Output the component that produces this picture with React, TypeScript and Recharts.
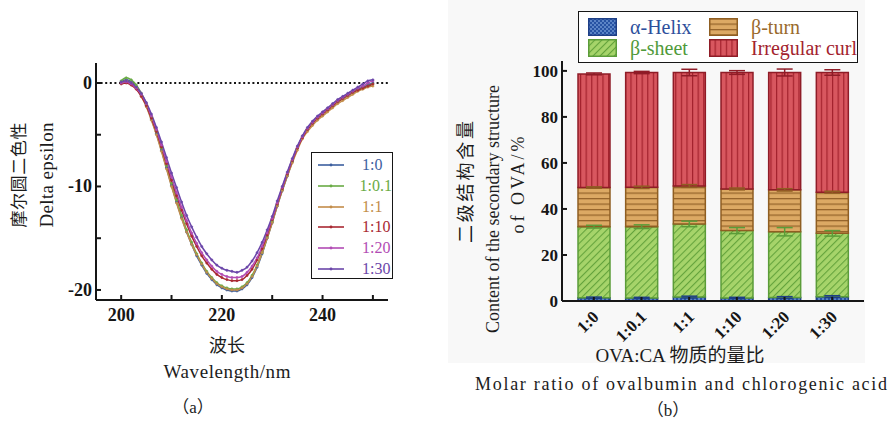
import { LineChart, Line, XAxis, YAxis, ReferenceLine, Legend, BarChart, Bar, ErrorBar } from 'recharts';

const SERIF = "'Liberation Serif', 'Times New Roman', Times, 'DejaVu Serif', 'Noto Sans CJK SC', serif";
const CJK = "'Noto Sans CJK SC', sans-serif";
const INK = '#161616';

// ---- (a) CD spectra ----
const wavelengths = [
  200, 201, 202, 203, 204, 205, 206, 207, 208, 209, 210, 211, 212, 213, 214, 215, 216,
  217, 218, 219, 220, 221, 222, 223, 224, 225, 226, 227, 228, 229, 230, 231, 232, 233,
  234, 235, 236, 237, 238, 239, 240, 241, 242, 243, 244, 245, 246, 247, 248, 249, 250,
];
const r1to0 = [
  0.1, 0.3, 0.1, -0.4, -1.2, -2.2, -3.5, -4.9, -6.5, -8.2, -9.9, -11.5, -13.0, -14.4, -15.6, -16.7, -17.6,
  -18.4, -19.0, -19.5, -19.8, -20.0, -20.1, -20.1, -19.9, -19.5, -18.8, -17.8, -16.5, -15.0, -13.5, -11.9, -10.4, -9.0,
  -7.6, -6.3, -5.2, -4.5, -3.9, -3.4, -3.0, -2.6, -2.2, -1.8, -1.5, -1.2, -0.9, -0.6, -0.4, -0.2, 0.0,
];
const r1to01 = [
  0.2, 0.5, 0.3, -0.2, -1.0, -2.0, -3.3, -4.7, -6.3, -8.0, -9.7, -11.3, -12.8, -14.2, -15.4, -16.5, -17.4,
  -18.2, -18.8, -19.3, -19.6, -19.8, -19.9, -19.9, -19.7, -19.3, -18.6, -17.6, -16.4, -14.9, -13.4, -11.8, -10.3, -8.9,
  -7.5, -6.3, -5.2, -4.5, -3.9, -3.4, -3.0, -2.6, -2.2, -1.8, -1.5, -1.2, -0.9, -0.7, -0.5, -0.3, -0.1,
];
const r1to1 = [
  0.0, 0.2, 0.0, -0.5, -1.3, -2.3, -3.6, -5.0, -6.6, -8.3, -10.0, -11.6, -13.1, -14.4, -15.6, -16.6, -17.5,
  -18.3, -18.9, -19.4, -19.7, -19.9, -20.0, -20.0, -19.8, -19.4, -18.7, -17.7, -16.4, -15.0, -13.5, -11.9, -10.4, -9.0,
  -7.7, -6.5, -5.4, -4.7, -4.1, -3.6, -3.2, -2.8, -2.4, -2.0, -1.7, -1.4, -1.1, -0.8, -0.6, -0.4, -0.3,
];
const r1to10 = [
  -0.1, 0.0, -0.2, -0.6, -1.3, -2.2, -3.4, -4.7, -6.2, -7.8, -9.4, -10.9, -12.3, -13.6, -14.8, -15.8, -16.7,
  -17.4, -18.0, -18.5, -18.8, -19.0, -19.1, -19.1, -19.0, -18.6, -18.0, -17.1, -16.0, -14.7, -13.2, -11.7, -10.2, -8.8,
  -7.5, -6.3, -5.3, -4.5, -3.9, -3.4, -3.0, -2.6, -2.2, -1.8, -1.5, -1.2, -0.9, -0.7, -0.5, -0.3, -0.1,
];
const r1to20 = [
  0.0, 0.1, -0.1, -0.5, -1.1, -2.0, -3.2, -4.5, -6.0, -7.6, -9.1, -10.6, -12.0, -13.3, -14.5, -15.5, -16.4,
  -17.1, -17.7, -18.2, -18.5, -18.7, -18.8, -18.8, -18.7, -18.3, -17.7, -16.9, -15.8, -14.5, -13.1, -11.6, -10.1, -8.7,
  -7.4, -6.2, -5.2, -4.4, -3.8, -3.3, -2.9, -2.5, -2.1, -1.7, -1.4, -1.1, -0.8, -0.5, -0.3, 0.0, 0.2,
];
const r1to30 = [
  0.1, 0.2, 0.0, -0.4, -1.0, -1.9, -3.0, -4.3, -5.7, -7.2, -8.7, -10.1, -11.5, -12.8, -13.9, -14.9, -15.8,
  -16.5, -17.1, -17.6, -17.9, -18.1, -18.2, -18.3, -18.1, -17.8, -17.2, -16.4, -15.4, -14.2, -12.9, -11.4, -10.0, -8.6,
  -7.3, -6.1, -5.1, -4.3, -3.7, -3.2, -2.8, -2.4, -2.0, -1.6, -1.3, -1.0, -0.7, -0.4, -0.1, 0.2, 0.3,
];

const cdSeries = [
  { key: 'a', name: '1:0', color: '#3d5f9f', values: r1to0 },
  { key: 'b', name: '1:0.1', color: '#6aab45', values: r1to01 },
  { key: 'c', name: '1:1', color: '#c38d4a', values: r1to1 },
  { key: 'd', name: '1:10', color: '#a92932', values: r1to10 },
  { key: 'e', name: '1:20', color: '#b24cb4', values: r1to20 },
  { key: 'f', name: '1:30', color: '#6b46a9', values: r1to30 },
];

const cdData = wavelengths.map((w, i) => {
  const row: any = { w };
  cdSeries.forEach((s) => (row[s.key] = s.values[i]));
  return row;
});

// ---- (b) secondary structure ----
const ratios = ['1:0', '1:0.1', '1:1', '1:10', '1:20', '1:30'];
const helix = [1.4, 1.3, 1.7, 1.3, 1.5, 1.9];
const sheet = [30.9, 31.0, 31.8, 29.3, 28.6, 27.5];
const turn = [17.0, 17.1, 16.5, 18.1, 18.2, 17.9];
const curl = [49.4, 49.9, 49.3, 50.6, 51.0, 52.0];
const helixErr = [0.3, 0.3, 0.4, 0.3, 0.4, 0.4];
const sheetErr = [0.6, 0.8, 1.2, 1.3, 1.8, 1.2];
const turnErr = [0.3, 0.5, 0.6, 0.4, 0.5, 0.4];
const curlErr = [0.4, 0.5, 1.4, 0.8, 1.5, 1.2];

const structData = ratios.map((r, i) => ({
  r,
  helix: helix[i],
  sheet: sheet[i],
  turn: turn[i],
  curl: curl[i],
  helixErr: helixErr[i],
  sheetErr: sheetErr[i],
  turnErr: turnErr[i],
  curlErr: curlErr[i],
}));

const structSeries = [
  { key: 'helix', name: 'α-Helix', fill: 'url(#pHelix)', stroke: '#1e3f86', text: '#2d4f9c' },
  { key: 'sheet', name: 'β-sheet', fill: 'url(#pSheet)', stroke: '#5b9c39', text: '#4f9a3a' },
  { key: 'turn', name: 'β-turn', fill: 'url(#pTurn)', stroke: '#8f5e22', text: '#9a6a2c' },
  { key: 'curl', name: 'Irregular curl', fill: 'url(#pCurl)', stroke: '#8f1c27', text: '#a3232e' },
];

// ticks drawn inward, labels only on the major ones
const CdXTick = ({ x, y, payload }: any) => (
  <g>
    <line x1={x} x2={x} y1={y} y2={y - 5} stroke={INK} strokeWidth={2} />
    {payload.value % 20 === 0 && (
      <text x={x} y={y + 21} textAnchor="middle" fontFamily={SERIF} fontWeight="bold" fontSize={18} fill={INK}>
        {payload.value}
      </text>
    )}
  </g>
);

const CdYTick = ({ x, y, payload }: any) => (
  <g>
    <line x1={x} x2={x + 5} y1={y} y2={y} stroke={INK} strokeWidth={2} />
    {payload.value % 10 === 0 && (
      <text x={x - 4} y={y + 6} textAnchor="end" fontFamily={SERIF} fontWeight="bold" fontSize={18} fill={INK}>
        {payload.value}
      </text>
    )}
  </g>
);

const BarXTick = ({ x, y, payload }: any) => (
  <g>
    <line x1={x} x2={x} y1={y} y2={y - 4} stroke={INK} strokeWidth={2} />
    <text
      transform={`translate(${x + 6},${y + 17}) rotate(-45)`}
      textAnchor="end"
      fontFamily={SERIF}
      fontWeight="bold"
      fontSize={17}
      fill={INK}
    >
      {payload.value}
    </text>
  </g>
);

const BarYTick = ({ x, y, payload }: any) => (
  <g>
    <line x1={x} x2={x + 5} y1={y} y2={y} stroke={INK} strokeWidth={2} />
    <text x={x - 4} y={y + 6} textAnchor="end" fontFamily={SERIF} fontWeight="bold" fontSize={17} fill={INK}>
      {payload.value}
    </text>
  </g>
);

const CdLegend = () => (
  <div
    style={{
      width: 82,
      height: 127,
      border: `1.5px solid ${INK}`,
      boxSizing: 'border-box',
      background: '#fff',
      paddingTop: 2,
    }}
  >
    {cdSeries.map((s) => (
      <div key={s.key} style={{ display: 'flex', alignItems: 'center', height: 20.7 }}>
        <svg width={44} height={10} style={{ marginLeft: 6 }}>
          <line x1={0} x2={26} y1={5} y2={5} stroke={s.color} strokeWidth={1.6} />
          <circle cx={13} cy={5} r={1.4} fill={s.color} />
        </svg>
        <span style={{ fontFamily: SERIF, fontSize: 16, color: s.color, lineHeight: 1 }}>{s.name}</span>
      </div>
    ))}
  </div>
);

const StructLegend = () => (
  <div
    style={{
      position: 'relative',
      width: 280,
      height: 52,
      border: `1.5px solid ${INK}`,
      boxSizing: 'border-box',
      background: '#fff',
    }}
  >
    {structSeries.map((s, i) => {
      const left = i < 2 ? 9 : 130;
      const top = i % 2 === 0 ? 6 : 27;
      return (
        <div key={s.key} style={{ position: 'absolute', left, top, display: 'flex', alignItems: 'center', height: 18 }}>
          <svg width={29} height={18}>
            <rect x={0.75} y={0.75} width={27.5} height={16.5} fill={s.fill} stroke={s.stroke} strokeWidth={1.5} />
          </svg>
          <span style={{ marginLeft: 13, fontFamily: SERIF, fontSize: 20, color: s.text, lineHeight: 1, whiteSpace: 'nowrap' }}>
            {s.name}
          </span>
        </div>
      );
    })}
  </div>
);

function Patterns() {
  return (
    <svg width={0} height={0} style={{ position: 'absolute' }}>
      <defs>
        <pattern id="pHelix" width={4} height={4} patternUnits="userSpaceOnUse">
          <rect width={4} height={4} fill="#2753a3" />
          <rect width={2} height={2} fill="#5b84c6" />
          <rect x={2} y={2} width={2} height={2} fill="#5b84c6" />
        </pattern>
        <pattern id="pSheet" width={5} height={5} patternUnits="userSpaceOnUse" patternTransform="rotate(45)">
          <rect width={5} height={5} fill="#a6d46a" />
          <line x1={0} y1={0} x2={0} y2={5} stroke="#64a33c" strokeWidth={2.2} />
        </pattern>
        <pattern id="pTurn" width={6} height={5.5} patternUnits="userSpaceOnUse">
          <rect width={6} height={5.5} fill="#dca964" />
          <line x1={0} y1={0.6} x2={6} y2={0.6} stroke="#94632a" strokeWidth={1.3} />
        </pattern>
        <pattern id="pCurl" width={5.6} height={6} patternUnits="userSpaceOnUse">
          <rect width={5.6} height={6} fill="#d8575f" />
          <line x1={0.6} y1={0} x2={0.6} y2={6} stroke="#a3222d" strokeWidth={1.2} />
        </pattern>
      </defs>
    </svg>
  );
}

function Titles() {
  return (
    <svg width={890} height={421} style={{ position: 'absolute', left: 0, top: 0, pointerEvents: 'none' }}>
      <g fill="#1c1c1c">
        <text transform="translate(25,175) rotate(-90)" textAnchor="middle" fontFamily={CJK} fontSize={17} textLength={105}>
          摩尔圆二色性
        </text>
        <text transform="translate(53,175) rotate(-90)" textAnchor="middle" fontFamily={SERIF} fontSize={19} textLength={105}>
          Delta epsilon
        </text>
        <text x={227} y={352} textAnchor="middle" fontFamily={CJK} fontSize={18}>
          波长
        </text>
        <text x={227} y={378} textAnchor="middle" fontFamily={SERIF} fontSize={19} textLength={127}>
          Wavelength/nm
        </text>
        <text x={193} y={413} textAnchor="middle" fontFamily={SERIF} fontSize={17}>
          （a）
        </text>

        <text transform="translate(472,182) rotate(-90)" textAnchor="middle" fontFamily={CJK} fontSize={18} textLength={122}>
          二级结构含量
        </text>
        <text transform="translate(499,209) rotate(-90)" textAnchor="middle" fontFamily={SERIF} fontSize={18} textLength={248}>
          Content of the secondary structure
        </text>
        <text transform="translate(524,185) rotate(-90)" textAnchor="middle" fontFamily={SERIF} fontSize={18} textLength={97}>
          of OVA/%
        </text>
        <text x={680} y={362} textAnchor="middle" fontFamily={SERIF} fontSize={19}>
          OVA:CA 物质的量比
        </text>
        <text x={681} y={390} textAnchor="middle" fontFamily={SERIF} fontSize={18} textLength={412}>
          Molar ratio of ovalbumin and chlorogenic acid
        </text>
        <text x={668} y={416} textAnchor="middle" fontFamily={SERIF} fontSize={17}>
          （b）
        </text>
      </g>
    </svg>
  );
}

export default function App() {
  return (
    <div style={{ position: 'absolute', left: 0, top: 0, width: 890, height: 421, background: '#fff', overflow: 'hidden' }}>
      <Patterns />
      <div style={{ position: 'absolute', left: 448, top: 0, width: 417, height: 363, background: '#f8f8f8' }} />

      <div style={{ position: 'absolute', left: 0, top: 0 }}>
        <LineChart width={400} height={330} data={cdData} margin={{ top: 63, right: 12, bottom: 0, left: 0 }}>
          <XAxis
            dataKey="w"
            type="number"
            domain={[195, 253]}
            allowDataOverflow
            ticks={[200, 210, 220, 230, 240, 250]}
            tick={<CdXTick />}
            tickSize={0}
            tickMargin={0}
            height={30}
            axisLine={{ stroke: INK, strokeWidth: 2 }}
          />
          <YAxis
            type="number"
            domain={[-20.97, 1.93]}
            allowDataOverflow
            ticks={[-20, -15, -10, -5, 0]}
            tick={<CdYTick />}
            tickSize={0}
            tickMargin={0}
            width={96}
            axisLine={{ stroke: INK, strokeWidth: 2 }}
          />
          <ReferenceLine y={0} stroke={INK} strokeWidth={2} strokeDasharray="2 2.6" />
          {cdSeries.map((s) => (
            <Line
              key={s.key}
              dataKey={s.key}
              name={s.name}
              type="monotone"
              stroke={s.color}
              strokeWidth={1.5}
              dot={{ r: 1.1, fill: s.color, stroke: s.color, strokeWidth: 0.6 }}
              isAnimationActive={false}
            />
          ))}
          <Legend
            layout="horizontal"
            verticalAlign="middle"
            align="center"
            wrapperStyle={{ left: 311, top: 152, width: 82 }}
            content={<CdLegend />}
          />
        </LineChart>
      </div>

      <div style={{ position: 'absolute', left: 440, top: 0 }}>
        <BarChart width={440} height={348} data={structData} margin={{ top: 61, right: 16, bottom: 18, left: 0 }}>
          <XAxis
            dataKey="r"
            padding={{ left: 8, right: 8 }}
            tick={<BarXTick />}
            tickSize={0}
            tickMargin={0}
            height={29}
            interval={0}
            axisLine={{ stroke: INK, strokeWidth: 2 }}
          />
          <YAxis
            type="number"
            domain={[0, 104.3]}
            allowDataOverflow
            ticks={[0, 20, 40, 60, 80, 100]}
            tick={<BarYTick />}
            tickSize={0}
            tickMargin={0}
            width={122}
            axisLine={{ stroke: INK, strokeWidth: 2 }}
          />
          {structSeries.map((s) => (
            <Bar
              key={s.key}
              dataKey={s.key}
              name={s.name}
              stackId="s"
              barSize={32}
              fill={s.fill}
              stroke={s.stroke}
              strokeWidth={1.5}
              isAnimationActive={false}
            >
              <ErrorBar dataKey={`${s.key}Err`} direction="y" width={8} stroke={s.stroke} strokeWidth={1.5} />
            </Bar>
          ))}
          <Legend
            layout="horizontal"
            verticalAlign="middle"
            align="center"
            wrapperStyle={{ left: 138, top: 11, width: 280 }}
            content={<StructLegend />}
          />
        </BarChart>
      </div>

      <Titles />
    </div>
  );
}
